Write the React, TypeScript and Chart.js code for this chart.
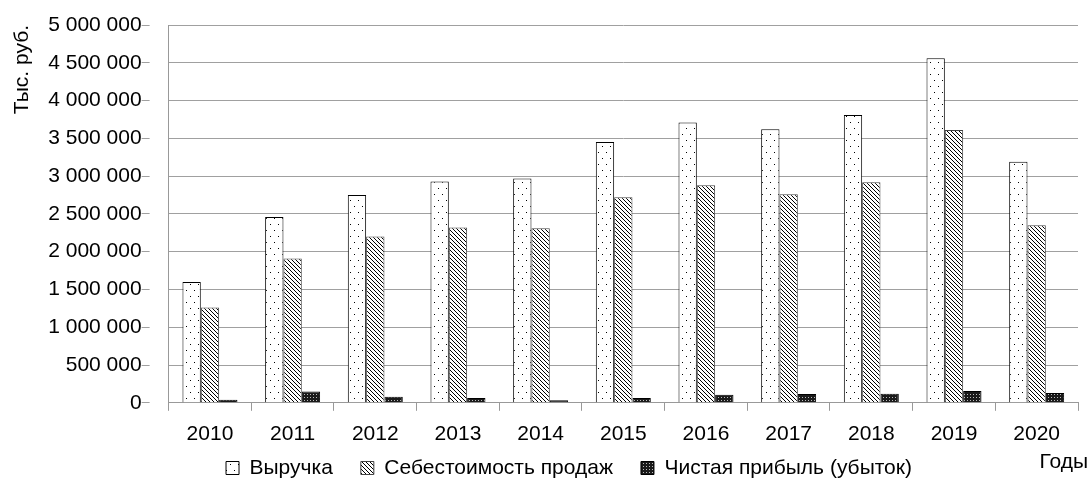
import React, { useEffect, useRef } from "react";
import { Chart, registerables } from "chart.js";

Chart.register(...registerables);

const categories = ["2010", "2011", "2012", "2013", "2014", "2015", "2016", "2017", "2018", "2019", "2020"];
const revenue = [1600000, 2460000, 2750000, 2930000, 2970000, 3450000, 3710000, 3620000, 3810000, 4560000, 3190000];
const costOfSales = [1260000, 1910000, 2200000, 2320000, 2310000, 2720000, 2880000, 2760000, 2920000, 3610000, 2350000];
const netProfit = [40000, 150000, 80000, 65000, 35000, 65000, 105000, 115000, 120000, 155000, 130000];
const seriesNames = ["Выручка", "Себестоимость продаж", "Чистая прибыль (убыток)"];
const yTitle = "Тыс. руб.";
const xTitle = "Годы";

const FONT = "'Liberation Sans', Arial, sans-serif";
const FS = 21;

function makePattern(kind: string): CanvasPattern | string {
  const c = document.createElement("canvas");
  const ctx = c.getContext("2d");
  if (!ctx) return "#fff";
  if (kind === "dots") {
    c.width = 8; c.height = 12;
    ctx.fillStyle = "#fff"; ctx.fillRect(0, 0, 8, 12);
    ctx.fillStyle = "#000";
    ctx.fillRect(2, 2, 1, 1);
    ctx.fillRect(6, 8, 1, 1);
  } else if (kind === "hatch") {
    c.width = 4; c.height = 4;
    ctx.fillStyle = "#fff"; ctx.fillRect(0, 0, 4, 4);
    ctx.fillStyle = "#000";
    for (let i = 0; i < 4; i++) ctx.fillRect(i, i, 1, 1);
  } else {
    c.width = 3; c.height = 3;
    ctx.fillStyle = "#1a1a1a"; ctx.fillRect(0, 0, 3, 3);
    ctx.fillStyle = "#bbb";
    ctx.fillRect(1, 1, 1, 1);
  }
  return ctx.createPattern(c, "repeat") || "#fff";
}

export default function App() {
  const ref = useRef<HTMLCanvasElement | null>(null);
  useEffect(() => {
    if (!ref.current) return;
    const shiftLegend = {
      id: "shiftLegend",
      afterLayout(chart: any) {
        const l = chart.legend;
        if (l) {
          l.left += 27; l.right += 27;
          const dy = 468 - (l.top + 28 + FS / 2);
          l.top += dy; l.bottom += dy;
        }
      },
      afterDraw(chart: any) {
        const ctx = chart.ctx;
        ctx.save();
        ctx.font = `${FS}px ${FONT}`;
        ctx.fillStyle = "#000";
        ctx.textAlign = "right";
        ctx.textBaseline = "alphabetic";
        ctx.fillText(xTitle, chart.width - 2, 468);
        ctx.restore();
      },
    };
    const chart = new Chart(ref.current, {
      type: "bar",
      data: {
        labels: categories,
        datasets: [
          { label: seriesNames[0], data: revenue, backgroundColor: makePattern("dots") as any, borderColor: "#000", borderWidth: 1 },
          { label: seriesNames[1], data: costOfSales, backgroundColor: makePattern("hatch") as any, borderColor: "#444", borderWidth: 1 },
          { label: seriesNames[2], data: netProfit, backgroundColor: makePattern("grid") as any, borderColor: "#000", borderWidth: 1 },
        ],
      },
      options: {
        animation: false,
        responsive: true,
        maintainAspectRatio: false,
        layout: { padding: { top: 25, right: 12, bottom: -32, left: 6 } },
        datasets: { bar: { categoryPercentage: 0.665, barPercentage: 1 } },
        plugins: {
          legend: {
            position: "bottom",
            labels: { font: { family: FONT, size: FS }, color: "#000", boxWidth: 13, boxHeight: 13, padding: 28 },
          },
          tooltip: { enabled: false },
        },
        scales: {
          x: {
            grid: { drawOnChartArea: false, drawTicks: true, tickLength: 8, color: "#999", offset: true },
            border: { color: "#999" },
            ticks: { font: { family: FONT, size: FS }, color: "#000", padding: 11 },
          },
          y: {
            min: 0,
            max: 5000000,
            grid: { color: "#a0a0a0", tickLength: 27, tickBorderDash: [8, 60] },
            border: { color: "#999" },
            ticks: {
              stepSize: 500000,
              font: { family: FONT, size: FS },
              color: "#000",
              padding: 0,
              callback: (v: any) => String(Math.round(Number(v))).replace(/\B(?=(\d{3})+(?!\d))/g, " "),
            },
            title: { display: true, text: yTitle, align: "end", font: { family: FONT, size: FS }, color: "#000", padding: { top: 4, bottom: 13 } },
          },
        },
      },
      plugins: [shiftLegend],
    });
    return () => chart.destroy();
  }, []);
  return (
    <div style={{ position: "fixed", left: 0, top: 0, width: 1090, height: 485, background: "#fff" }}>
      <canvas ref={ref} />
    </div>
  );
}
